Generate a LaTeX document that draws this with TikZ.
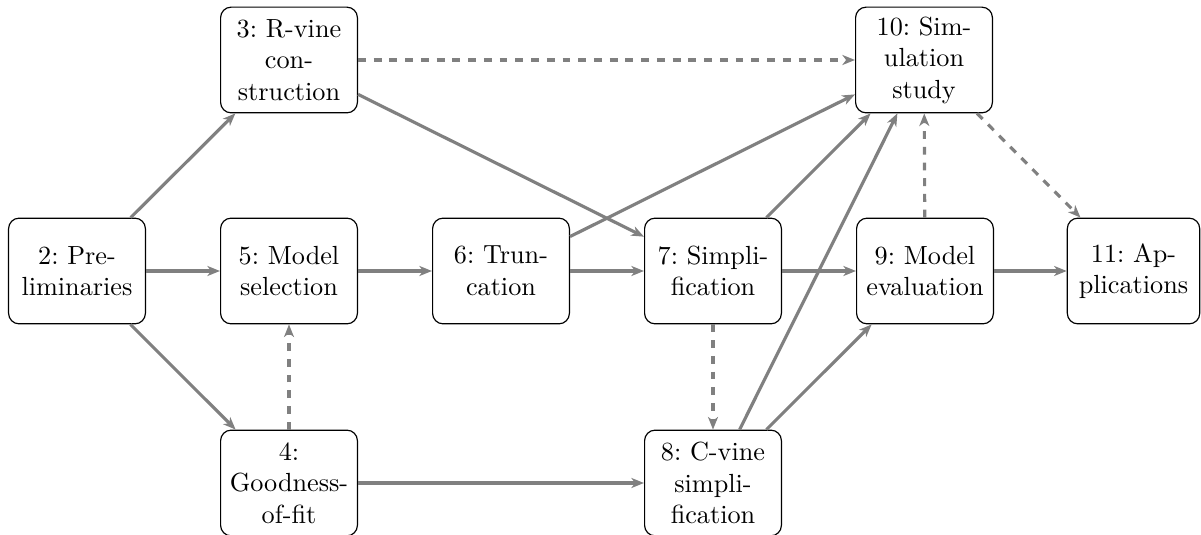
\documentclass[tikz,border=0pt]{standalone}
\usetikzlibrary{arrows.meta}
\begin{document}
\begin{tikzpicture}[x=0.3814pt, y=-0.3814pt,
  chapter/.style={draw, rounded corners=4pt, text width=1.6cm, align=center,
    minimum height=40.3pt, inner sep=3.33pt, line width=0.45pt,
    font=\frenchspacing},
  link/.style={draw=gray, line width=1.2pt,
    -{Stealth[length=4.8pt, width=3.8pt, inset=1.4pt]}},
  optlink/.style={link, dashed}]
\useasboundingbox (0,0) rectangle (1201,535);

% chapters
\node[chapter] (c2)  at (77,271)  {2: Pre-\\liminaries};
\node[chapter] (c3)  at (289,60)  {3: R-vine\\con-\\struction};
\node[chapter] (c5)  at (289,271) {5: Model\\selection};
\node[chapter] (c4)  at (289,483) {4:\\Goodness-\\of-fit};
\node[chapter] (c6)  at (501,271) {6: Trun-\\cation};
\node[chapter] (c7)  at (713,271) {7: Simpli-\\fication};
\node[chapter] (c8)  at (713,483) {8: C-vine\\simpli-\\fication};
\node[chapter] (c9)  at (925,271) {9: Model\\evaluation};
\node[chapter] (c10) at (924,60)  {10: Sim-\\ulation\\study};
\node[chapter, text width=1.6cm-1.7pt] (c11) at (1133.5,271) {11: Ap-\\plications};

% dependencies
\draw[link] (c2) -- (c3);
\draw[link] (c2) -- (c5);
\draw[link] (c2) -- (c4);
\draw[link] (c5) -- (c6);
\draw[link] (c6) -- (c7);
\draw[link] (c3) -- (c7);
\draw[link] (c4) -- (c8);
\draw[link] (c7) -- (c9);
\draw[link] (c9) -- (c11);
\draw[link] (c8) -- (c9);
\draw[link] (c6) -- (c10);
\draw[link] (c7) -- (c10);
\draw[link] (c8) -- (c10);

% optional dependencies
\draw[optlink] (c3) -- (c10);
\draw[optlink] (c4) -- (c5);
\draw[optlink] (c7) -- (c8);
\draw[optlink] (c9) -- (c10);
\draw[optlink] (c10) -- (c11);
\end{tikzpicture}
\end{document}
